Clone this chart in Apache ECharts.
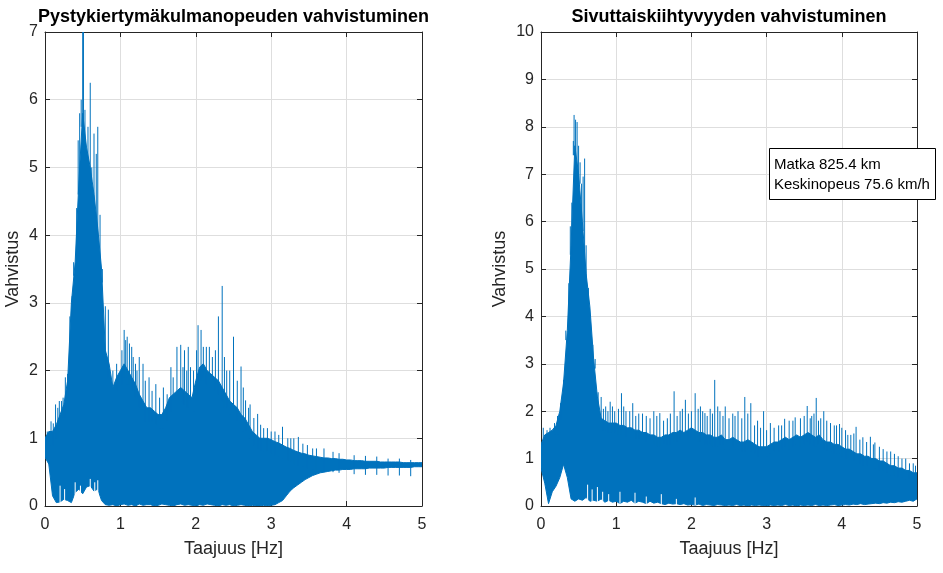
<!DOCTYPE html>
<html>
<head>
<meta charset="utf-8">
<script src="https://cdn.jsdelivr.net/npm/echarts@6/dist/echarts.min.js"></script>
<style>html,body{margin:0;padding:0;background:#fff}#c{width:943px;height:573px}</style>
</head>
<body>
<div id="c"></div>
<script>
// Frequencies (Hz) at which the envelopes were read
const freq = [0,0.05,0.1,0.15,0.2,0.25,0.3,0.35,0.4,0.45,0.5,0.55,0.6,0.65,0.7,0.75,0.8,0.85,0.9,0.95,
1,1.05,1.1,1.15,1.2,1.25,1.3,1.35,1.4,1.45,1.5,1.55,1.6,1.65,1.7,1.75,1.8,1.85,1.9,1.95,
2,2.05,2.1,2.15,2.2,2.25,2.3,2.35,2.4,2.45,2.5,2.55,2.6,2.65,2.7,2.75,2.8,2.85,2.9,2.95,
3,3.05,3.1,3.15,3.2,3.25,3.3,3.35,3.4,3.45,3.5,3.55,3.6,3.65,3.7,3.75,3.8,3.85,3.9,3.95,
4,4.05,4.1,4.15,4.2,4.25,4.3,4.35,4.4,4.45,4.5,4.55,4.6,4.65,4.7,4.75,4.8,4.85,4.9,4.95,5];

// Left plot: Pystykiertymäkulmanopeuden vahvistuminen
const leftUpper = [1.0,1.1,1.1,1.2,1.35,1.5,1.85,3.0,3.6,4.8,
5.8,5.3,5.0,4.6,4.1,3.5,2.3,2.1,1.75,1.9,
2.0,2.1,2.0,1.9,1.8,1.65,1.55,1.45,1.45,1.4,
1.35,1.35,1.45,1.6,1.65,1.7,1.75,1.7,1.65,1.6,
1.85,2.05,2.1,2.0,1.95,1.9,1.85,1.75,1.65,1.55,
1.5,1.45,1.35,1.3,1.2,1.1,1.05,1.0,1.0,1.0,
0.98,0.95,0.93,0.9,0.87,0.85,0.82,0.8,0.78,0.77,
0.75,0.74,0.73,0.72,0.71,0.71,0.7,0.7,0.69,0.69,
0.68,0.68,0.67,0.67,0.67,0.66,0.66,0.66,0.66,0.65,
0.65,0.65,0.65,0.65,0.65,0.64,0.64,0.64,0.64,0.64,
0.64];
const leftLower = [0.72,0.62,0.15,0.05,0.06,0.1,0.08,0.05,0.2,0.25,
0.18,0.28,0.3,0.22,0.25,0.08,0.02,0.01,0.02,0.0,
0.02,0.03,0.01,0.02,0.0,0.03,0.01,0.02,0.02,0.0,
0.01,0.03,0.02,0.01,0.0,0.02,0.03,0.01,0.02,0.01,
0.0,0.02,0.01,0.03,0.02,0.01,0.0,0.02,0.01,0.02,
0.0,0.01,0.02,0.01,0.0,0.01,0.0,0.0,0.01,0.0,
0.01,0.02,0.05,0.08,0.15,0.22,0.27,0.31,0.35,0.39,
0.42,0.45,0.47,0.49,0.5,0.51,0.52,0.53,0.53,0.54,
0.54,0.54,0.55,0.55,0.55,0.55,0.56,0.56,0.56,0.56,
0.56,0.57,0.57,0.57,0.57,0.57,0.57,0.57,0.58,0.58,
0.58];
const leftSpikes = [[0.03,1.1],[0.08,1.25],[0.11,1.22],[0.14,1.5],[0.17,1.45],[0.19,1.55],[0.22,1.55],[0.24,1.6],
[0.27,1.9],[0.3,1.95],[0.33,2.0],[0.36,3.1],[0.38,3.6],[0.42,4.4],
[0.44,5.4],[0.46,5.8],[0.48,6.0],[0.5,7.0],[0.51,7.0],[0.53,5.85],[0.57,5.6],[0.6,6.25],[0.62,5.0],[0.65,5.5],
[0.68,5.2],[0.7,5.6],[0.73,4.3],[0.76,3.5],[0.8,2.95],[0.84,2.9],[0.9,2.0],[0.95,2.1],[1.02,2.3],[1.05,2.6],[1.07,2.45],[1.09,2.5],
[1.12,2.4],[1.15,2.35],[1.17,2.2],[1.2,2.1],[1.22,2.0],[1.25,2.2],[1.3,2.1],[1.33,1.85],[1.38,1.9],[1.42,1.7],[1.47,1.8],
[1.52,1.6],[1.57,1.75],[1.62,1.65],[1.67,2.05],[1.7,1.9],[1.75,2.35],
[1.8,2.38],[1.83,2.05],[1.85,2.3],[1.88,2.0],[1.9,2.35],[1.93,2.05],[1.97,2.0],[2.01,2.3],[2.03,2.67],[2.07,2.6],[2.1,2.35],
[2.14,2.35],[2.18,2.35],[2.22,2.2],[2.26,2.3],[2.3,2.8],[2.35,3.25],[2.38,2.2],
[2.41,2.0],[2.45,2.0],[2.5,2.5],[2.55,1.85],[2.6,2.06],[2.63,1.75],[2.66,1.56],[2.7,1.45],[2.72,1.5],[2.77,1.3],[2.82,1.36],
[2.86,1.2],[2.9,1.15],[2.95,1.15],[3.0,1.1],[3.05,1.1],[3.1,1.05],[3.15,1.17],
[3.22,1.0],[3.26,1.0],[3.3,1.0],[3.36,1.02],[3.42,0.92],[3.48,0.9],[3.55,0.85],[3.6,0.85],[3.7,0.85],[3.82,0.8],
[3.9,0.78],[4.1,0.75],[4.25,0.74],[4.4,0.73],[4.55,0.7],[4.7,0.7],[4.85,0.68]];
const leftDips = [[0.2,0.3],[0.26,0.25],[0.4,0.35],[0.47,0.3],[0.6,0.4],[0.66,0.35],[0.7,0.38]];

// Right plot: Sivuttaiskiihtyvyyden vahvistuminen
const rightUpper = [1.3,1.5,1.55,1.6,1.7,2.0,2.6,3.7,5.5,7.6,
7.0,6.0,4.9,4.2,3.1,2.3,1.85,1.8,1.75,1.75,
1.75,1.7,1.7,1.65,1.65,1.6,1.6,1.55,1.55,1.5,
1.5,1.45,1.45,1.5,1.5,1.55,1.55,1.6,1.55,1.6,
1.65,1.6,1.55,1.55,1.5,1.5,1.45,1.45,1.5,1.4,
1.4,1.45,1.4,1.35,1.35,1.4,1.35,1.3,1.25,1.25,
1.25,1.3,1.35,1.35,1.4,1.45,1.4,1.45,1.5,1.45,
1.5,1.55,1.5,1.45,1.5,1.4,1.35,1.35,1.3,1.3,
1.25,1.2,1.2,1.15,1.1,1.1,1.05,1.05,1.0,1.0,
0.95,0.95,0.9,0.85,0.85,0.8,0.8,0.75,0.75,0.7,
0.7];
const rightLower = [0.8,0.48,0.05,0.3,0.42,0.6,0.88,0.6,0.15,0.1,
0.15,0.12,0.18,0.1,0.12,0.1,0.15,0.08,0.12,0.08,
0.1,0.05,0.1,0.08,0.12,0.06,0.1,0.08,0.05,0.1,
0.06,0.08,0.05,0.03,0.06,0.04,0.05,0.03,0.05,0.02,
0.03,0.02,0.04,0.01,0.03,0.02,0.01,0.03,0.02,0.01,
0.02,0.01,0.03,0.01,0.02,0.0,0.02,0.01,0.02,0.01,
0.0,0.02,0.01,0.02,0.01,0.03,0.01,0.02,0.0,0.02,
0.01,0.02,0.01,0.03,0.01,0.02,0.01,0.02,0.03,0.01,
0.02,0.03,0.02,0.04,0.03,0.05,0.03,0.04,0.05,0.06,
0.05,0.07,0.06,0.08,0.07,0.09,0.08,0.1,0.12,0.1,
0.15];
const rightSpikes = [[0.03,1.65],[0.08,1.6],[0.12,1.65],[0.18,1.75],[0.22,1.9],[0.26,2.17],[0.3,2.66],[0.33,3.7],
[0.37,4.7],[0.39,5.9],[0.41,6.4],[0.43,7.7],[0.44,8.25],[0.46,8.15],[0.48,8.1],[0.5,7.6],[0.52,7.25],[0.54,6.8],
[0.56,6.95],[0.58,7.33],[0.6,5.5],[0.63,4.6],[0.66,4.0],[0.69,3.4],[0.72,3.1],[0.76,2.4],[0.8,2.3],[0.83,2.05],[0.86,2.1],
[0.89,2.0],[0.92,2.2],[0.95,2.1],[0.98,2.0],[1.03,2.05],[1.07,2.38],[1.1,2.1],[1.13,2.0],[1.18,2.0],[1.22,2.17],[1.26,1.9],
[1.3,1.95],[1.35,1.95],[1.4,1.9],[1.45,1.85],[1.5,2.0],[1.54,1.9],[1.58,1.96],[1.63,1.8],[1.68,1.85],[1.72,1.95],
[1.77,2.42],[1.81,1.9],[1.85,2.0],[1.88,2.05],[1.92,2.24],[1.96,1.95],[2.0,2.0],[2.05,2.38],[2.09,2.05],[2.12,2.1],
[2.15,2.0],[2.18,1.96],[2.21,1.9],[2.25,2.05],[2.28,1.95],[2.31,2.66],[2.35,2.1],[2.38,2.0],[2.42,1.9],
[2.45,2.1],[2.5,1.85],[2.55,1.95],[2.58,1.9],[2.62,2.0],[2.67,1.85],[2.71,2.3],[2.75,1.95],[2.79,2.17],[2.84,1.7],
[2.88,1.8],[2.92,1.65],[2.96,2.0],[3.0,1.6],[3.05,1.75],[3.1,1.65],[3.16,1.7],[3.2,1.7],[3.24,1.84],
[3.3,1.8],[3.35,1.8],[3.38,1.87],[3.45,1.85],[3.5,1.9],[3.54,2.11],[3.58,1.85],[3.6,1.9],[3.63,1.95],[3.66,2.28],
[3.69,1.8],[3.72,1.85],[3.76,2.0],[3.8,1.8],[3.85,1.75],[3.9,1.7],[3.93,1.7],[3.97,1.73],[4.0,1.65],
[4.05,1.6],[4.08,1.5],[4.12,1.5],[4.16,1.53],[4.19,1.67],[4.24,1.4],[4.28,1.45],[4.33,1.35],[4.38,1.46],[4.42,1.3],
[4.44,1.34],[4.5,1.25],[4.55,1.2],[4.6,1.15],[4.65,1.15],[4.7,1.1],[4.75,1.05],[4.8,1.0],[4.85,1.0],[4.9,0.9],[4.95,0.9],[4.98,0.85]];
const rightDips = [[0.62,0.45],[0.68,0.35],[0.75,0.4],[0.82,0.3],[0.9,0.25],[1.05,0.3],[1.25,0.28],[1.4,0.2],
[1.6,0.25],[1.8,0.15],[2.05,0.18]];

const titles = ['Pystykiertymäkulmanopeuden vahvistuminen', 'Sivuttaiskiihtyvyyden vahvistuminen'];
const xName = 'Taajuus [Hz]';
const yName = 'Vahvistus';
const yMax = [7, 10];
const infoLines = ['Matka 825.4 km', 'Keskinopeus 75.6 km/h'];

const BLUE = '#0072BD';
const INK = '#262626';
const FONT = '"Liberation Sans", Arial, Helvetica, sans-serif';

const grids = [
  {left: 45, top: 32, width: 377, height: 474},
  {left: 541, top: 32, width: 376, height: 474}
];
const panels = [
  {upper: leftUpper, lower: leftLower, spikes: leftSpikes, dips: leftDips},
  {upper: rightUpper, lower: rightLower, spikes: rightSpikes, dips: rightDips}
];

const xAxes = [], yAxes = [], series = [];
grids.forEach((g, gi) => {
  const common = {gridIndex: gi, type: 'value', min: 0, max: 5, interval: 1,
    axisLine: {show: true, onZero: false, lineStyle: {color: INK, width: 1}},
    axisTick: {show: true, inside: true, length: 5, lineStyle: {color: INK}}};
  xAxes.push(Object.assign({}, common, {position: 'bottom',
    axisLabel: {color: INK, fontSize: 16, fontFamily: FONT, margin: 11},
    splitLine: {show: true, lineStyle: {color: '#dedede', width: 1}},
    name: xName, nameLocation: 'middle', nameGap: 34,
    nameTextStyle: {color: INK, fontSize: 18, fontFamily: FONT}}));
  xAxes.push(Object.assign({}, common, {position: 'top', axisLabel: {show: false}, splitLine: {show: false}}));
  const ycommon = {gridIndex: gi, type: 'value', min: 0, max: yMax[gi], interval: 1,
    axisLine: {show: true, onZero: false, lineStyle: {color: INK, width: 1}},
    axisTick: {show: true, inside: true, length: 5, lineStyle: {color: INK}}};
  yAxes.push(Object.assign({}, ycommon, {position: 'left',
    axisLabel: {color: INK, fontSize: 16, fontFamily: FONT, margin: 7},
    splitLine: {show: true, lineStyle: {color: '#dedede', width: 1}},
    name: yName, nameLocation: 'middle', nameGap: gi === 0 ? 23 : 32,
    nameTextStyle: {color: INK, fontSize: 18, fontFamily: FONT}}));
  yAxes.push(Object.assign({}, ycommon, {position: 'right', axisLabel: {show: false}, splitLine: {show: false}}));

  const p = panels[gi];
  const xi = gi * 2, yi = gi * 2;
  // band between lower and upper envelope, drawn as one polygon through the axes' scales
  series.push({type: 'custom', xAxisIndex: xi, yAxisIndex: yi, silent: true, z: 2, clip: true,
    data: [[0, 0]],
    renderItem: (params, api) => {
      const pts = [];
      for (let i = 0; i < freq.length; i++) pts.push(api.coord([freq[i], p.upper[i]]));
      for (let i = freq.length - 1; i >= 0; i--) pts.push(api.coord([freq[i], p.lower[i]]));
      return {type: 'polygon', shape: {points: pts},
        style: {fill: BLUE, stroke: BLUE, lineWidth: 1}};
    }});
  series.push({type: 'custom', xAxisIndex: xi, yAxisIndex: yi, silent: true, z: 3, clip: true,
    data: p.dips,
    renderItem: (params, api) => {
      const a = api.coord([api.value(0), api.value(1)]);
      const b = api.coord([api.value(0), 0]);
      return {type: 'line', shape: {x1: a[0], y1: a[1], x2: b[0], y2: b[1] - 1},
        style: {stroke: '#ffffff', lineWidth: 1}};
    }});
  series.push({type: 'custom', xAxisIndex: xi, yAxisIndex: yi, silent: true, z: 4, clip: true,
    data: p.spikes.map(([f, v]) => [f, v, p.upper[Math.round(f / 0.05)] - 0.2]),
    renderItem: (params, api) => {
      const a = api.coord([api.value(0), api.value(1)]);
      const b = api.coord([api.value(0), api.value(2)]);
      return {type: 'line', shape: {x1: a[0], y1: a[1], x2: b[0], y2: b[1]},
        style: {stroke: BLUE, lineWidth: 1}};
    }});
});

const chart = echarts.init(document.getElementById('c'), null, {renderer: 'canvas'});
chart.setOption({
  animation: false,
  backgroundColor: '#fff',
  grid: grids.map(g => Object.assign({show: true, borderWidth: 0, backgroundColor: '#fff'}, g)),
  xAxis: xAxes,
  yAxis: yAxes,
  series: series,
  graphic: [
    {type: 'text', x: 233.5, y: 17, z: 10, style: {text: titles[0], font: 'bold 18px ' + FONT, fill: '#000', align: 'center', verticalAlign: 'middle'}},
    {type: 'text', x: 729, y: 17, z: 10, style: {text: titles[1], font: 'bold 18px ' + FONT, fill: '#000', align: 'center', verticalAlign: 'middle'}},
    {type: 'rect', z: 10, shape: {x: 769.5, y: 148.5, width: 166, height: 51}, style: {fill: '#fff', stroke: '#000', lineWidth: 1}},
    {type: 'text', z: 11, x: 774, y: 165, style: {text: infoLines[0], font: '15px ' + FONT, fill: '#000', align: 'left', verticalAlign: 'middle'}},
    {type: 'text', z: 11, x: 774, y: 185, style: {text: infoLines[1], font: '15px ' + FONT, fill: '#000', align: 'left', verticalAlign: 'middle'}}
  ]
});
</script>
</body>
</html>
